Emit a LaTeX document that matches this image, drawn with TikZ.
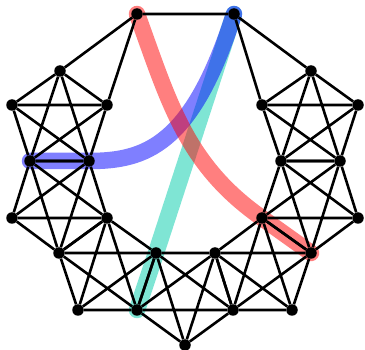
\documentclass[tikz,border=0pt]{standalone}
\usetikzlibrary{backgrounds}
\definecolor{hlred}{RGB}{255,0,0}
\definecolor{hlblue}{RGB}{0,0,255}
\definecolor{hlteal}{RGB}{0,204,170}
\tikzset{
  dot/.style={circle,fill=black,inner sep=0pt,minimum size=11.5pt},
  edge/.style={line width=2.6pt,black},
  hl/.style={line width=16.5pt,line cap=round,line join=round,opacity=0.5}
}
\begin{document}
\begin{tikzpicture}[x=1pt,y=-1pt]
\useasboundingbox (0,0) rectangle (365,350);
% nodes
\node[dot] (A) at (137,14) {};
\node[dot] (B) at (234,14) {};
\node[dot] (L1) at (60,71) {};
\node[dot] (L2) at (12,105) {};
\node[dot] (L3) at (107,105) {};
\node[dot] (L4) at (30,161) {};
\node[dot] (L5) at (89,161) {};
\node[dot] (L6) at (12,218) {};
\node[dot] (L7) at (107,218) {};
\node[dot] (L8) at (59,253) {};
\node[dot] (L9) at (156,253) {};
\node[dot] (L10) at (78,310) {};
\node[dot] (L11) at (137,310) {};
\node[dot] (M) at (185,345) {};
\node[dot] (R9) at (215,253) {};
\node[dot] (R11) at (233,310) {};
\node[dot] (R10) at (292,310) {};
\node[dot] (R8) at (311,253) {};
\node[dot] (R7) at (262,218) {};
\node[dot] (R6) at (358,218) {};
\node[dot] (R4) at (281,161) {};
\node[dot] (R5) at (340,161) {};
\node[dot] (R2) at (262,105) {};
\node[dot] (R3) at (358,105) {};
\node[dot] (R1) at (311,71) {};
\begin{pgfonlayer}{background}
  % highlighted paths
  \draw[hl,hlteal] (L11.center) -- (L9.center) -- (B.center);
  \draw[hl,hlblue] (B.center) .. controls (192,146) and (145,161) .. (L5.center) -- (L4.center);
  \draw[hl,hlred] (A.center) to[out=-70,in=145] (R7.center) -- (R8.center);
  % edges
  \draw[edge] (A) -- (B) (A) -- (L1) (A) -- (L3) (B) -- (R1) (B) -- (R2);
  \foreach \a/\b/\c/\d/\e in {L1/L2/L3/L4/L5, L4/L5/L6/L7/L8, L7/L8/L9/L10/L11,
      L9/L11/M/R9/R11, R7/R8/R9/R10/R11, R4/R5/R6/R7/R8, R1/R2/R3/R4/R5} {
    \draw[edge] (\a) -- (\b) (\a) -- (\c) (\a) -- (\d) (\a) -- (\e)
                (\b) -- (\c) (\b) -- (\d) (\b) -- (\e)
                (\c) -- (\d) (\c) -- (\e) (\d) -- (\e);
  }
\end{pgfonlayer}
\end{tikzpicture}
\end{document}
